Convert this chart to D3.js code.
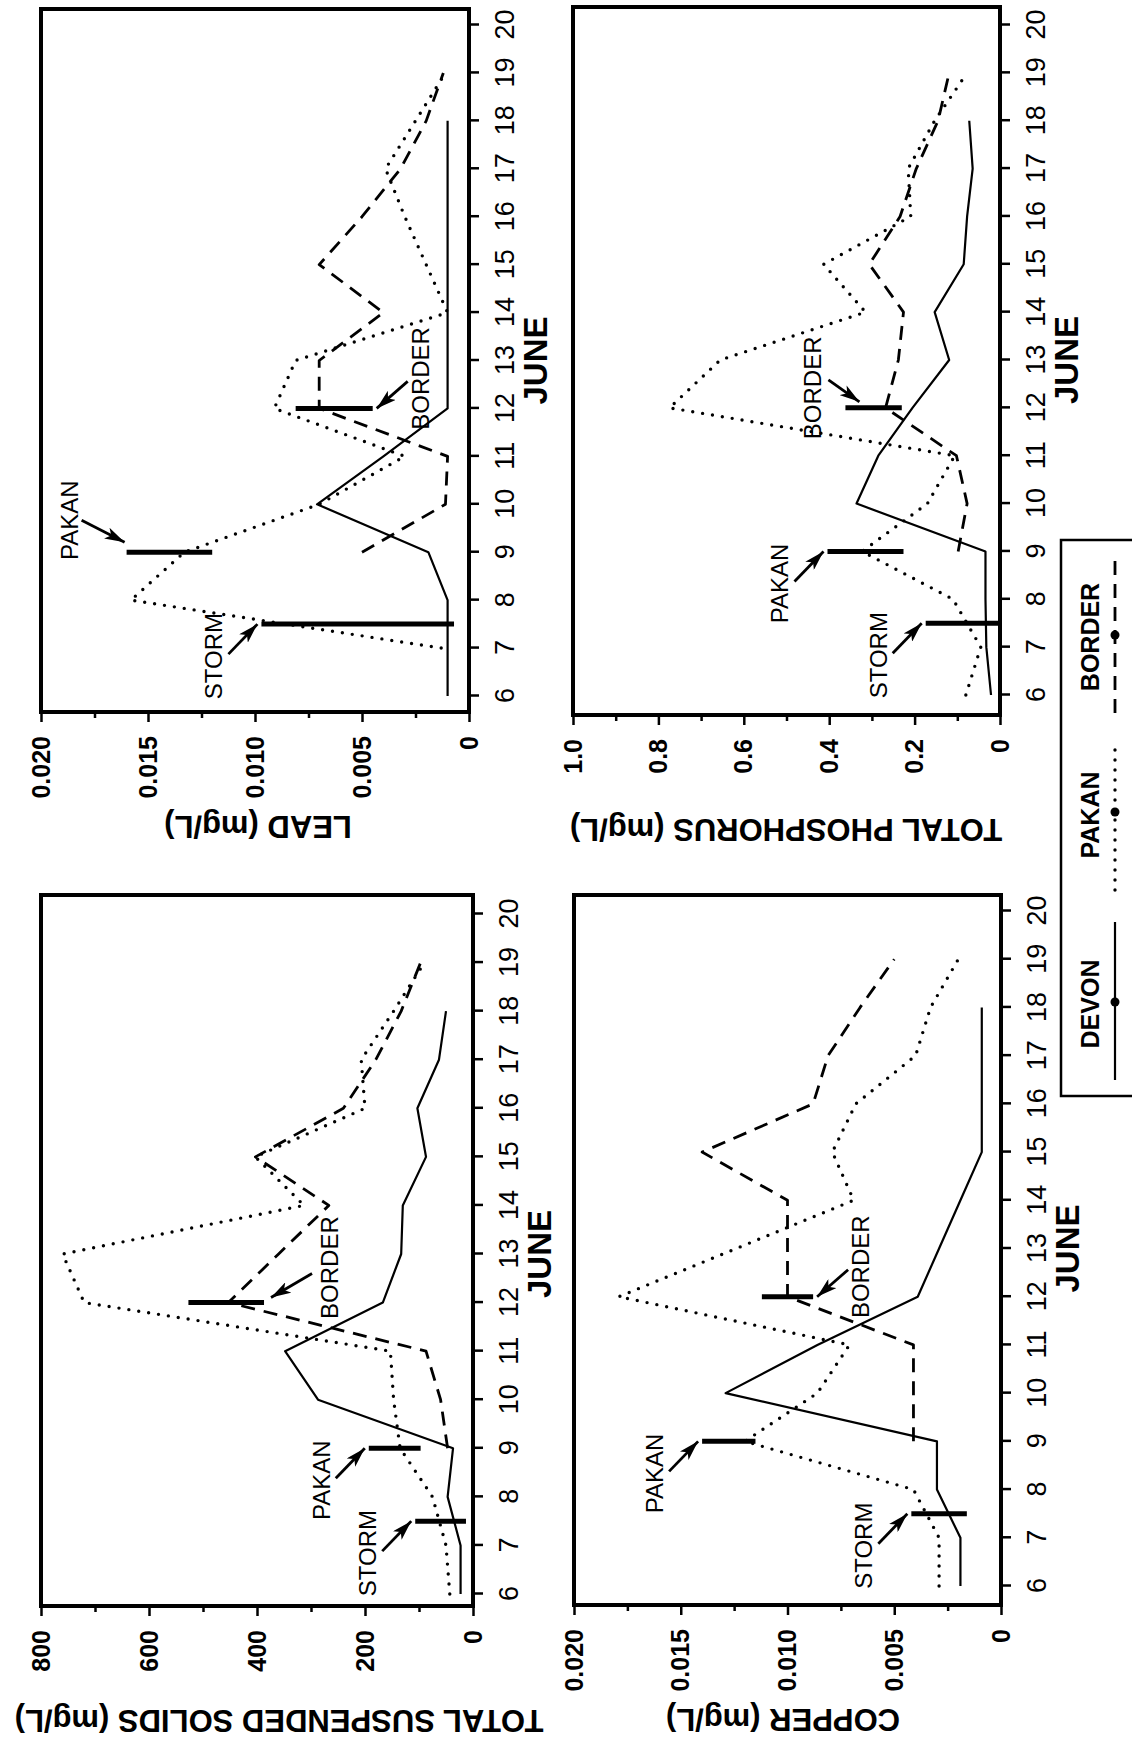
<!DOCTYPE html>
<html lang="en">
<head>
    <meta charset="UTF-8">
    <title>June water quality - Devon, Pakan, Border</title>
    <script src="https://cdn.jsdelivr.net/npm/d3@7"></script>
    <style>
        body { margin: 0; background: #fff; }
        svg { display: block; }
    </style>
</head>
<body>
    <svg width="1132" height="1749"></svg>

    <script>
        // sampling days in June (index 0 = June 6)
        const days = [6, 7, 8, 9, 10, 11, 12, 13, 14, 15, 16, 17, 18, 19];
        const dayTicks = [6, 7, 8, 9, 10, 11, 12, 13, 14, 15, 16, 17, 18, 19, 20];
        const seriesNames = ['DEVON', 'PAKAN', 'BORDER'];
        const eventNames = ['STORM', 'PAKAN', 'BORDER'];

        // total suspended solids (mg/L)
        const tssDevon  = [23, 23, 47, 37, 287, 348, 167, 133, 130, 87, 103, 63, 50, null];
        const tssPakan  = [43, 50, 75, 135, 147, 153, 720, 760, 313, 403, 200, 207, 147, 90];
        const tssBorder = [null, null, null, 47, 60, 87, 453, 360, 267, 403, 240, 180, 133, 97];
        const tssTicks = [0, 200, 400, 600, 800];
        const tssMinor = [100, 300, 500, 700];
        // storm / pakan / border markers: [day, low, high]
        const tssEvents = [[7.5, 13, 107], [9, 97, 193], [12, 387, 527]];

        // lead (mg/L)
        const leadDevon  = [0.001, 0.001, 0.001, 0.0019, 0.0071, 0.004, 0.001, 0.001, 0.001, 0.001, 0.001, 0.001, 0.001, null];
        const leadPakan  = [null, 0.0013, 0.0158, 0.0133, 0.007, 0.003, 0.0091, 0.0081, 0.001, 0.002, 0.003, 0.0039, 0.0025, 0.0011];
        const leadBorder = [null, null, null, 0.005, 0.0011, 0.001, 0.007, 0.007, 0.004, 0.007, 0.005, 0.0032, 0.002, 0.0012];
        const leadTicks = [0, 0.005, 0.010, 0.015, 0.020];
        const leadMinor = [0.0025, 0.0075, 0.0125, 0.0175];
        const leadEvents = [[7.5, 0.0007, 0.0097], [9, 0.012, 0.016], [12, 0.0045, 0.0081]];

        // copper (mg/L)
        const copperDevon  = [0.0019, 0.0019, 0.003, 0.003, 0.0129, 0.0086, 0.0039, 0.0029, 0.0019, 0.0009, 0.0009, 0.0009, 0.0009, null];
        const copperPakan  = [0.0029, 0.0029, 0.0041, 0.012, 0.0086, 0.0071, 0.0179, 0.0124, 0.0069, 0.0079, 0.0068, 0.004, 0.0033, 0.002];
        const copperBorder = [null, null, null, 0.0041, 0.0041, 0.0041, 0.01, 0.01, 0.01, 0.014, 0.0088, 0.0081, 0.0066, 0.005];
        const copperTicks = [0, 0.005, 0.010, 0.015, 0.020];
        const copperMinor = [0.0025, 0.0075, 0.0125, 0.0175];
        const copperEvents = [[7.5, 0.0016, 0.0042], [9, 0.0115, 0.014], [12, 0.0088, 0.0112]];

        // total phosphorus (mg/L)
        const phosDevon  = [0.021, 0.032, 0.034, 0.034, 0.336, 0.285, 0.205, 0.119, 0.153, 0.085, 0.077, 0.064, 0.072, null];
        const phosPakan  = [0.08, 0.045, 0.11, 0.323, 0.17, 0.106, 0.774, 0.655, 0.315, 0.413, 0.209, 0.215, 0.153, 0.077];
        const phosBorder = [null, null, null, 0.098, 0.077, 0.102, 0.268, 0.238, 0.226, 0.306, 0.234, 0.196, 0.145, 0.119];
        const phosTicks = [0, 0.2, 0.4, 0.6, 0.8, 1.0];
        const phosMinor = [0.1, 0.3, 0.5, 0.7, 0.9];
        const phosEvents = [[7.5, 0, 0.174], [9, 0.226, 0.404], [12, 0.23, 0.362]];

        const narrow = "'Liberation Sans Narrow', 'Arial Narrow', sans-serif";
        const sans = "'Liberation Sans', Arial, Helvetica, sans-serif";

        // arrow notes: [end of marker, tip dx, tip dy, tail dx, tail dy, label dx, label baseline dy]
        const upLeft = ['top', 0, -4, -30, -29, -32, -35];
        const downRight = ['bottom', 0, 4, 27, 31, 30, 52];

        const smallFmt = d => d === 0 ? '0' : d3.format('.3f')(d);

        // page is drawn in landscape, then turned a quarter to the left
        const panels = [
            { title: 'TOTAL SUSPENDED SOLIDS (mg/L)', series: [tssDevon, tssPakan, tssBorder],
              yMax: 800, ticks: tssTicks, minor: tssMinor, fmt: d3.format('d'), events: tssEvents,
              box: [143, 41, 854, 473], d6: 155, d20: 835, titleY: 279,
              notes: [upLeft, upLeft, ['bottom', 5, 7, 24, 41, 30, 67]] },
            { title: 'LEAD (mg/L)', series: [leadDevon, leadPakan, leadBorder],
              yMax: 0.020, ticks: leadTicks, minor: leadMinor, fmt: smallFmt, events: leadEvents,
              box: [1037, 41, 1740, 469], d6: 1053, d20: 1724, titleY: 258,
              notes: [upLeft, ['top', 10, -2, 22, -43, 22, -47], downRight] },
            { title: 'COPPER (mg/L)', series: [copperDevon, copperPakan, copperBorder],
              yMax: 0.020, ticks: copperTicks, minor: copperMinor, fmt: smallFmt, events: copperEvents,
              box: [144, 574, 854, 1001], d6: 163, d20: 838, titleY: 783,
              notes: [upLeft, upLeft, downRight] },
            { title: 'TOTAL PHOSPHORUS (mg/L)', series: [phosDevon, phosPakan, phosBorder],
              yMax: 1.0, ticks: phosTicks, minor: phosMinor,
              fmt: d => d === 0 ? '0' : d3.format('.1f')(d), events: phosEvents,
              box: [1034, 573, 1742, 1000], d6: 1054, d20: 1724, titleY: 786,
              notes: [upLeft, upLeft, ['top', 6, 14, 22, -31, 14, -38]] }
        ];

        const seriesStyle = [
            { width: 2.2, dash: null, cap: 'butt' },
            { width: 3.4, dash: '0 10', cap: 'round' },
            { width: 2.8, dash: '14 9', cap: 'butt' }
        ];

        const svg = d3.select('svg');
        svg.append('rect').attr('width', 1132).attr('height', 1749).attr('fill', '#fff');

        svg.append('defs').append('marker')
            .attr('id', 'head')
            .attr('viewBox', '0 0 20 12')
            .attr('refX', 20).attr('refY', 6)
            .attr('markerWidth', 20).attr('markerHeight', 12)
            .attr('markerUnits', 'userSpaceOnUse')
            .attr('orient', 'auto')
            .append('path')
            .attr('d', 'M0,0 L20,6 L0,12 L5,6 Z')
            .attr('fill', '#000');

        const page = svg.append('g')
            .attr('transform', 'translate(0,1749) rotate(-90)');

        panels.forEach(p => {
            const [x0, y0, x1, y1] = p.box;
            const x = d3.scaleLinear().domain([6, 20]).range([p.d6, p.d20]);
            const y = d3.scaleLinear().domain([0, p.yMax]).range([y1, y0]);
            const g = page.append('g');

            // station lines
            const line = d3.line()
                .defined(d => d[1] != null)
                .x(d => x(d[0]))
                .y(d => y(d[1]));
            p.series.forEach((vals, i) => {
                const s = seriesStyle[i];
                g.append('path')
                    .datum(days.map((d, j) => [d, vals[j]]))
                    .attr('d', line)
                    .attr('fill', 'none')
                    .attr('stroke', '#000')
                    .attr('stroke-width', s.width)
                    .attr('stroke-linecap', s.cap)
                    .attr('stroke-linejoin', 'round')
                    .attr('stroke-dasharray', s.dash);
            });

            // storm / pass markers with arrows
            p.events.forEach((e, k) => {
                const [day, lo, hi] = e;
                const n = p.notes[k];
                g.append('line')
                    .attr('x1', x(day)).attr('x2', x(day))
                    .attr('y1', y(lo)).attr('y2', y(hi))
                    .attr('stroke', '#000')
                    .attr('stroke-width', 5);
                const tipX = x(day) + n[1];
                const tipY = (n[0] === 'top' ? y(hi) : y(lo)) + n[2];
                g.append('line')
                    .attr('x1', tipX + n[3]).attr('y1', tipY + n[4])
                    .attr('x2', tipX).attr('y2', tipY)
                    .attr('stroke', '#000')
                    .attr('stroke-width', 2.8)
                    .attr('marker-end', 'url(#head)');
                g.append('text')
                    .attr('x', tipX + n[5])
                    .attr('y', tipY + n[6])
                    .attr('text-anchor', 'middle')
                    .attr('font-family', narrow)
                    .attr('font-size', 24)
                    .text(eventNames[k]);
            });

            // axes
            const yAxis = d3.axisLeft(y).tickValues(p.ticks).tickSize(10).tickPadding(14).tickFormat(p.fmt);
            g.append('g')
                .attr('transform', `translate(${x0},0)`)
                .call(yAxis)
                .call(a => a.select('.domain').remove())
                .call(a => a.selectAll('line').attr('stroke-width', 2.5))
                .call(a => a.selectAll('text')
                    .attr('font-family', sans)
                    .attr('font-weight', 'bold')
                    .attr('font-size', 25)
                    .attr('fill', '#000'));

            g.append('g')
                .attr('transform', `translate(${x0},0)`)
                .call(d3.axisLeft(y).tickValues(p.minor).tickSize(6).tickFormat(''))
                .call(a => a.select('.domain').remove())
                .call(a => a.selectAll('line').attr('stroke-width', 2.5));

            const xAxis = d3.axisBottom(x).tickValues(dayTicks).tickSize(10).tickPadding(16).tickFormat(d3.format('d'));
            g.append('g')
                .attr('transform', `translate(0,${y1})`)
                .call(xAxis)
                .call(a => a.select('.domain').remove())
                .call(a => a.selectAll('line').attr('stroke-width', 2.5))
                .call(a => a.selectAll('text')
                    .attr('font-family', narrow)
                    .attr('font-size', 27)
                    .attr('fill', '#000'));

            // frame
            g.append('rect')
                .attr('x', x0).attr('y', y0)
                .attr('width', x1 - x0).attr('height', y1 - y0)
                .attr('fill', 'none')
                .attr('stroke', '#000')
                .attr('stroke-width', 4);

            // y title
            g.append('text')
                .attr('transform', `translate(${x0 - 104},${p.titleY}) rotate(-90)`)
                .attr('text-anchor', 'middle')
                .attr('font-family', sans)
                .attr('font-weight', 'bold')
                .attr('font-size', 31)
                .text(p.title);

            g.append('text')
                .attr('x', x(13))
                .attr('y', y1 + 78)
                .attr('text-anchor', 'middle')
                .attr('font-family', narrow)
                .attr('font-weight', 'bold')
                .attr('font-size', 33)
                .text('JUNE');
        });

        // legend (runs off the bottom of the page)
        const legendItems = [
            { cx: 745, from: 669, to: 827, dot: 747 },
            { cx: 934, from: 859, to: 1009, dot: 937 },
            { cx: 1112, from: 1036, to: 1192, dot: 1114 }
        ];
        const legend = page.append('g');
        legend.append('rect')
            .attr('x', 653).attr('y', 1061)
            .attr('width', 556).attr('height', 100)
            .attr('fill', 'none')
            .attr('stroke', '#000')
            .attr('stroke-width', 2.5);
        legendItems.forEach((it, i) => {
            const s = seriesStyle[i];
            legend.append('text')
                .attr('x', it.cx).attr('y', 1099)
                .attr('text-anchor', 'middle')
                .attr('font-family', sans)
                .attr('font-weight', 'bold')
                .attr('font-size', 25)
                .text(seriesNames[i]);
            legend.append('line')
                .attr('x1', it.from).attr('x2', it.to)
                .attr('y1', 1115).attr('y2', 1115)
                .attr('stroke', '#000')
                .attr('stroke-width', s.width)
                .attr('stroke-linecap', s.cap)
                .attr('stroke-dasharray', s.dash);
            legend.append('circle')
                .attr('cx', it.dot).attr('cy', 1115).attr('r', 4.5)
                .attr('fill', '#000');
        });
    </script>
</body>
</html>
